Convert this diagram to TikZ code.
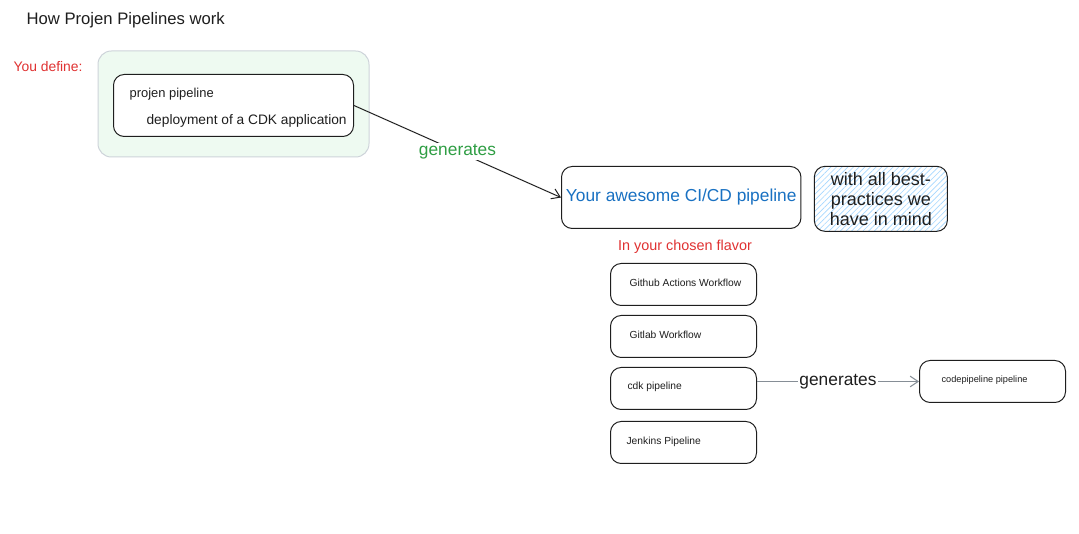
\documentclass[tikz,border=0pt]{standalone}
\usepackage{fontspec}
\setmainfont{Liberation Sans}
\usetikzlibrary{arrows.meta,patterns.meta}
\definecolor{ink}{HTML}{1E1E1E}
\definecolor{exred}{HTML}{E03131}
\definecolor{exgreen}{HTML}{2F9E44}
\definecolor{exblue}{HTML}{1971C2}
\definecolor{lightgreen}{HTML}{EEFAF1}
\definecolor{hatchblue}{HTML}{A5D8FF}
\definecolor{softgray}{HTML}{CED4DA}
\definecolor{arrowgray}{HTML}{868E96}
\newcommand{\fsz}[1]{\fontsize{#1}{#1}\selectfont}
\tikzset{
  box/.style={draw=ink, line width=0.75pt, rounded corners=8pt, fill=white},
  outerbox/.style={draw=softgray, line width=0.75pt, rounded corners=10pt, fill=lightgreen},
  hatchbox/.style={draw=ink, line width=0.75pt, rounded corners=8pt, fill=white,
     pattern={Lines[angle=45,distance=3pt,line width=0.5pt]}, pattern color=hatchblue},
  conn/.style={draw=ink, line width=0.75pt, -{Straight Barb[length=6pt,width=8pt]}},
  lbl/.style={inner sep=1pt},
}
\begin{document}
\begin{tikzpicture}[x=0.75pt,y=-0.75pt]
\useasboundingbox (0,0) rectangle (1079,534);
\fill[white] (0,0) rectangle (1079,534);
% title
\node[lbl, anchor=west, text=ink] (title) at (25,20) {\fsz{12.5}How Projen Pipelines work};
\node[lbl, anchor=west, text=exred] (youdef) at (12,67) {\fsz{10.4}You define:};
% definition boxes
\draw[outerbox] (98,51) rectangle (369,157);
\node[box, minimum width=240*0.75pt, minimum height=62*0.75pt, anchor=north west] (inner) at (113,74) {};
\node[lbl, anchor=west, text=ink] (pp) at (128,94) {\fsz{9.7}projen pipeline};
\node[lbl, anchor=west, text=ink] (cdk) at (145,121) {\fsz{10.3}deployment of a CDK application};
% main pipeline
\node[box, minimum width=239*0.75pt, minimum height=62*0.75pt, anchor=north west, text=exblue] (ci) at (561,166) {\fsz{13}Your awesome CI/CD pipeline};
\node[hatchbox, minimum width=133*0.75pt, minimum height=65*0.75pt, anchor=north west, text=ink, align=center, inner sep=2pt,
  font=\fontsize{13.5}{15}\selectfont] (best) at (814,166) {with all best-\\practices we\\have in mind};
\draw[conn] (inner.east) -- node[lbl, fill=white, text=exgreen] (gen1) {\fsz{13}generates} (ci.west);
% flavors
\node[lbl, text=exred] (flavor) at (685,247) {\fsz{10.8}In your chosen flavor};
\node[box, minimum width=146*0.75pt, minimum height=42*0.75pt, anchor=north west] (gh) at (610,263) {};
\node[box, minimum width=146*0.75pt, minimum height=42*0.75pt, anchor=north west] (gl) at (610,315) {};
\node[box, minimum width=146*0.75pt, minimum height=42*0.75pt, anchor=north west] (cdkp) at (610,367) {};
\node[box, minimum width=146*0.75pt, minimum height=42*0.75pt, anchor=north west] (jk) at (610,421) {};
\node[lbl, anchor=west, text=ink] (ght) at (628,283) {\fsz{7.7}Github Actions Workflow};
\node[lbl, anchor=west, text=ink] (glt) at (628,335) {\fsz{7.7}Gitlab Workflow};
\node[lbl, anchor=west, text=ink] (cdkt) at (626,387) {\fsz{7.7}cdk pipeline};
\node[lbl, anchor=west, text=ink] (jkt) at (625,442) {\fsz{7.7}Jenkins Pipeline};
% codepipeline
\node[box, minimum width=146*0.75pt, minimum height=42*0.75pt, anchor=north west] (cp) at (919,360) {};
\node[lbl, anchor=west, text=ink] (cpt) at (940,380) {\fsz{6.9}codepipeline pipeline};
\draw[conn, draw=arrowgray] (cdkp.east |- cp.west) -- node[lbl, fill=white, text=ink] (gen2) {\fsz{13}generates} (cp.west);
\end{tikzpicture}
\end{document}
